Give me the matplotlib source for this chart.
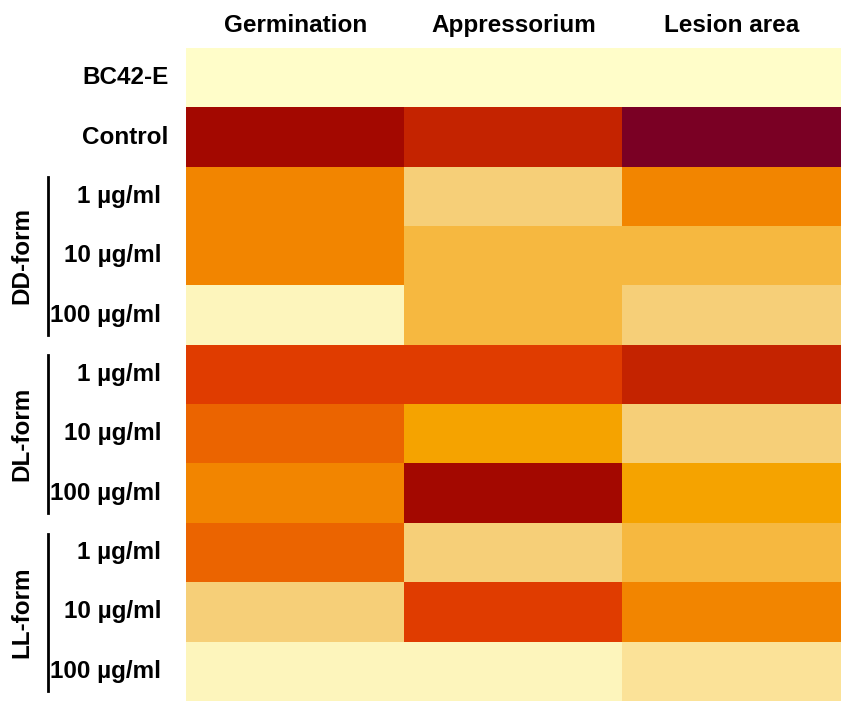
import numpy as np
import matplotlib.pyplot as plt
from matplotlib.colors import ListedColormap, BoundaryNorm

# heat map columns and rows
columns = ['Germination', 'Appressorium', 'Lesion area']
row_labels = ['BC42-E', 'Control',
              '1 µg/ml', '10 µg/ml', '100 µg/ml',
              '1 µg/ml', '10 µg/ml', '100 µg/ml',
              '1 µg/ml', '10 µg/ml', '100 µg/ml']
groups = ['DD-form', 'DL-form', 'LL-form']
group_rows = [(2, 4), (5, 7), (8, 10)]

# colour levels (0 = lightest, 11 = darkest)
palette = ['#FFFDC9', '#FDF5BC', '#FBE298', '#F6CF78', '#F6B840', '#F5A300',
           '#F28500', '#EB6400', '#E03C00', '#C42300', '#A30800', '#7A0024']
germination = [0, 10, 6, 6, 1, 8, 7, 6, 7, 3, 1]
appressorium = [0, 9, 3, 4, 4, 8, 5, 10, 3, 8, 1]
lesion_area = [0, 11, 6, 4, 3, 9, 3, 5, 4, 6, 2]

data = np.array([germination, appressorium, lesion_area]).T

plt.rcParams['font.family'] = ['Liberation Sans', 'DejaVu Sans']
plt.rcParams['font.weight'] = 'bold'
fs = 17.5

fig = plt.figure(figsize=(8.51, 7.10), dpi=100)
ax = fig.add_axes([0.2186, 0.0127, 0.7696, 0.9197])

cmap = ListedColormap(palette)
norm = BoundaryNorm(np.arange(-0.5, len(palette) + 0.5), cmap.N)
ax.imshow(data, cmap=cmap, norm=norm, aspect='auto', interpolation='nearest')

ax.set_xticks(range(len(columns)))
ax.set_xticklabels(columns, fontsize=fs, fontweight='bold')
ax.xaxis.tick_top()
ax.tick_params(axis='x', length=0, pad=8)
ax.set_yticks([])
for s in ax.spines.values():
    s.set_visible(False)

trans = ax.get_yaxis_transform()
for i, lab in enumerate(row_labels):
    x = -0.027 if i < 2 else -0.038
    ax.text(x, i, lab, transform=trans, ha='right', va='center',
            fontsize=fs, fontweight='bold')

for name, (r0, r1) in zip(groups, group_rows):
    ax.plot([-0.2107, -0.2107], [r0 - 0.32, r1 + 0.33], transform=trans,
            color='black', lw=2, clip_on=False)
    ax.text(-0.25, (r0 + r1) / 2, name, transform=trans, rotation=90,
            ha='center', va='center', fontsize=fs, fontweight='bold')

plt.savefig('out.png', dpi=100)
